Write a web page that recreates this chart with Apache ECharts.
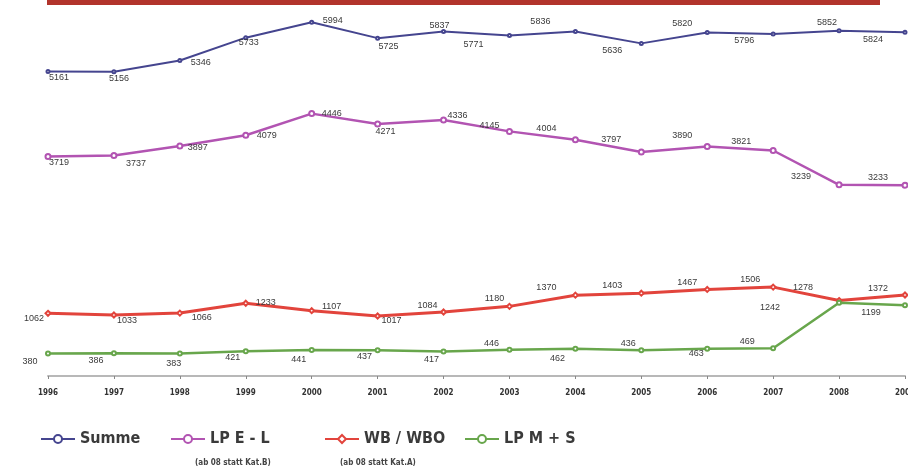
<!DOCTYPE html>
<html>
<head>
<meta charset="utf-8">
<script src="https://cdn.jsdelivr.net/npm/echarts@6/dist/echarts.min.js"></script>
<style>
  html, body { margin: 0; padding: 0; background: #ffffff; }
  #chart { width: 908px; height: 471px; }
</style>
</head>
<body>
<div id="chart"></div>
<script>
// Years on the category axis
const years = ['1996', '1997', '1998', '1999', '2000', '2001', '2002', '2003', '2004', '2005', '2006', '2007', '2008', '2009'];

// Series values per year
const summe = [5161, 5156, 5346, 5733, 5994, 5725, 5837, 5771, 5836, 5636, 5820, 5796, 5852, 5824];
const lpEL  = [3719, 3737, 3897, 4079, 4446, 4271, 4336, 4145, 4004, 3797, 3890, 3821, 3239, 3233];
const wbWbo = [1062, 1033, 1066, 1233, 1107, 1017, 1084, 1180, 1370, 1403, 1467, 1506, 1278, 1372];
const lpMS  = [380, 386, 383, 421, 441, 437, 417, 446, 462, 436, 463, 469, 1242, 1199];

// Where each value label sits relative to its point [dx, dy]
const summeShift = [[11,6],[5,7],[21,2],[3,5],[21,-2],[11,8],[-4,-6],[-36,9],[-35,-10],[-29,7],[-25,-9],[-29,7],[-12,-8],[-32,7]];
const lpELShift  = [[11,6],[22,8],[18,2],[21,0],[20,0],[8,8],[14,-5],[-20,-6],[-29,-11],[-30,-12],[-25,-11],[-32,-9],[-38,-8],[-27,-8]];
const wbShift    = [[-14,5],[13,5],[22,4],[20,-1],[20,-4],[14,5],[-16,-7],[-15,-8],[-29,-8],[-29,-8],[-20,-7],[-23,-8],[-36,-13],[-27,-7]];
const msShift    = [[-18,8],[-18,7],[-6,10],[-13,6],[-13,10],[-13,6],[-12,8],[-18,-6],[-18,10],[-13,-7],[-11,5],[-26,-7],[-69,5],[-34,7]];

const narrow = '"Liberation Sans Narrow", "DejaVu Sans Condensed", "Liberation Sans", sans-serif';

function withLabels(values, shifts) {
  return values.map((v, i) => ({
    value: v,
    label: { offset: shifts[i] }
  }));
}

function lineSeries(name, values, shifts, color, width, symbol, size) {
  return {
    name: name,
    type: 'line',
    data: withLabels(values, shifts),
    symbol: symbol,
    symbolSize: size,
    showAllSymbol: true,
    lineStyle: { color: color, width: width },
    itemStyle: { color: color, borderColor: color, borderWidth: 1 },
    label: {
      show: true,
      position: 'inside',
      align: 'center',
      verticalAlign: 'middle',
      formatter: '{c}',
      fontSize: 9,
      fontFamily: '"Liberation Sans", Arial, sans-serif',
      color: '#3a3a3a'
    },
    emphasis: { disabled: true },
    z: 3
  };
}

const legendText = { fontSize: 16, fontWeight: 'bold', fontFamily: narrow, color: '#3a3a3a' };

function legendAt(name, left) {
  return {
    data: [name],
    left: left,
    top: 431,
    itemWidth: 34,
    itemHeight: 10,
    itemGap: 4,
    padding: 0,
    textStyle: legendText,
    selectedMode: false
  };
}

const chart = echarts.init(document.getElementById('chart'), null, { renderer: 'canvas' });

chart.setOption({
  backgroundColor: '#ffffff',
  animation: false,
  grid: { left: 48, right: 3, top: 16, bottom: 95, containLabel: false, outerBoundsMode: 'none' },
  xAxis: {
    type: 'category',
    data: years,
    boundaryGap: false,
    axisLine: { show: true, lineStyle: { color: '#b8b8b8', width: 2 } },
    axisTick: { show: true, alignWithLabel: true, length: 3, lineStyle: { color: '#888888' } },
    axisLabel: {
      margin: 13,
      fontSize: 8,
      fontWeight: 'bold',
      fontFamily: narrow,
      color: '#333333',
      hideOverlap: false
    },
    splitLine: { show: false }
  },
  yAxis: {
    type: 'value',
    min: 0,
    max: 6100,
    show: false,
    splitLine: { show: false }
  },
  legend: [
    legendAt('Summe', 40),
    legendAt('LP E - L', 170),
    legendAt('WB / WBO', 324),
    legendAt('LP M + S', 464)
  ],
  graphic: [
    {
      type: 'rect',
      left: 47, top: 0,
      shape: { width: 833, height: 5 },
      style: { fill: '#b2342c' }
    },
    {
      type: 'text',
      left: 195, top: 459,
      style: { text: '(ab 08 statt Kat.B)', fontSize: 8, fontWeight: 'bold', fontFamily: narrow, fill: '#444444' }
    },
    {
      type: 'text',
      left: 340, top: 459,
      style: { text: '(ab 08 statt Kat.A)', fontSize: 8, fontWeight: 'bold', fontFamily: narrow, fill: '#444444' }
    }
  ],
  series: [
    lineSeries('Summe', summe, summeShift, '#45458f', 2, 'emptyCircle', 3),
    lineSeries('LP E - L', lpEL, lpELShift, '#b254b2', 2.5, 'emptyCircle', 5),
    lineSeries('WB / WBO', wbWbo, wbShift, '#e2443c', 3, 'emptyDiamond', 5),
    lineSeries('LP M + S', lpMS, msShift, '#68a64c', 2.5, 'emptyCircle', 4)
  ]
});
</script>
</body>
</html>
